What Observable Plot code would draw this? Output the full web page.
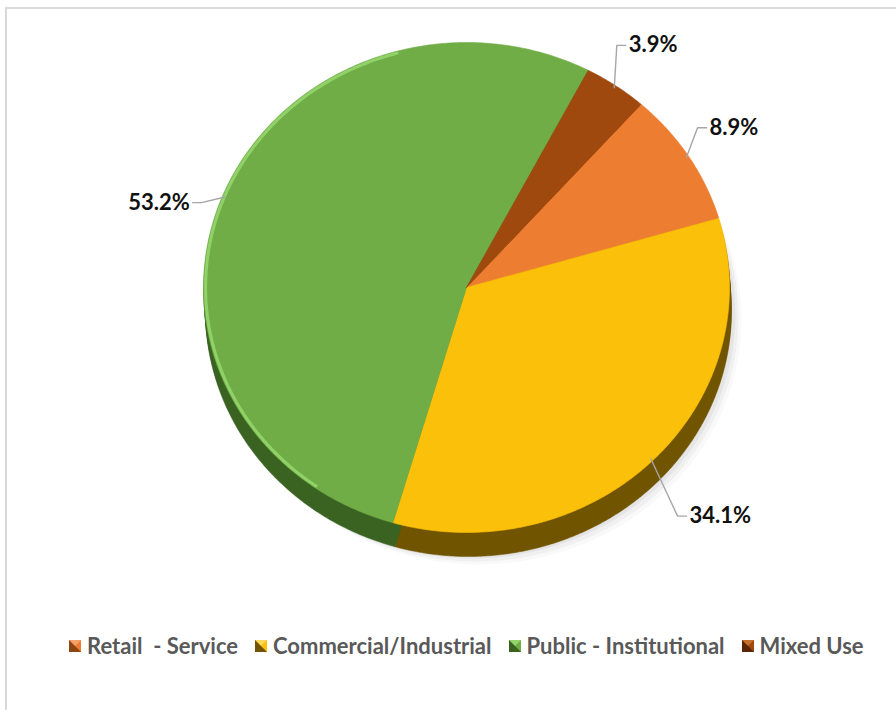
<!DOCTYPE html>
<html><head><meta charset="utf-8">
<script src="https://cdn.jsdelivr.net/npm/d3@7"></script>
<script src="https://cdn.jsdelivr.net/npm/@observablehq/plot@0.6"></script>
<style>
html,body{margin:0;padding:0;background:#fff}
body{width:896px;height:710px;overflow:hidden;position:relative;font-family:Lato,"Open Sans",sans-serif}
#frame{position:absolute;left:5px;top:7px;width:1000px;height:800px;border-top:2px solid #d9d9d9;border-left:2px solid #d9d9d9;box-sizing:border-box}
#chart{position:absolute;left:0;top:0}
#legend{position:absolute;left:69px;top:632px;display:flex;align-items:center;font-size:22px;font-weight:700;color:#595959;white-space:pre}
.item{display:flex;align-items:center;margin-right:17px}
.sw{width:0;height:0;border-style:solid;border-width:6.5px;margin-right:6px}
</style></head>
<body>
<div id="frame"></div>
<div id="chart"></div>
<div id="legend"></div>
<script>
// ---- data ----
const categories = ["Retail  - Service", "Commercial/Industrial", "Public - Institutional", "Mixed Use"];
const shares = [8.9, 34.1, 53.2, 3.9];
const labels = ["8.9%", "34.1%", "53.2%", "3.9%"];

// ---- style / layout ----
const colors = ["#ED7D31", "#FBC00A", "#70AD47", "#A0490F"];
const sideColors = ["#8f4512", "#705400", "#3a6322", "#5a2606"];
const rimColors = ["#f4a26a", "#ffd85a", "#93d46b", "#c4702f"];
const firstSliceAngle = 41.6;        // degrees clockwise from 12 o'clock
const labelR = [1.131, 1.261, 1.108, 1.165];
const labelShift = [-2.8, 2.8, -3.7, -2.6]; // degrees
const cx = 466, cy = 287, rx = 263, ry = 245;
const W = 896, H = 625;

const rad = Math.PI / 180;
const arcs = d3.pie().sort(null).value(d => d)
  .startAngle(firstSliceAngle * rad).endAngle(firstSliceAngle * rad + 2 * Math.PI)(shares);

const slices = [];
arcs.forEach((a, i) => {
  slices.push({cat: categories[i], x: 0, y: 0});
  const n = Math.max(4, Math.ceil((a.endAngle - a.startAngle) / (0.5 * rad)));
  for (let k = 0; k <= n; k++) {
    const t = a.startAngle + (a.endAngle - a.startAngle) * k / n;
    slices.push({cat: categories[i], x: Math.sin(t), y: Math.cos(t), t: t / rad});
  }
  slices.push({cat: categories[i], x: 0, y: 0});
});

// highlight rim on the left side of the pie
const rim = slices.filter(d => d.t !== undefined && d.t > 215 && d.t < 345);

// labels and leader lines
const pxX = 1 / rx;
const labelRows = [], leaders = [];
arcs.forEach((a, i) => {
  const mid = (a.startAngle + a.endAngle) / 2;
  const la = mid + labelShift[i] * rad;
  const lx = Math.sin(la) * labelR[i], ly = Math.cos(la) * labelR[i];
  const right = Math.sin(la) >= 0;
  labelRows.push({cat: categories[i], text: labels[i], x: lx, y: ly, right});
  const s = right ? -1 : 1;
  leaders.push({cat: categories[i], x: Math.sin(mid) * 0.99, y: Math.cos(mid) * 0.99});
  leaders.push({cat: categories[i], x: lx + s * 12 * pxX, y: ly});
  leaders.push({cat: categories[i], x: lx + s * 3 * pxX, y: ly});
});

const marks = [];
// soft shadow
[[12, 32, 0.025], [9, 29, 0.035], [6, 26, 0.045]].forEach(([dx, dy, op]) => {
  marks.push(Plot.line(slices, {x: "x", y: "y", z: "cat", fill: "#000", fillOpacity: op, stroke: "none", dx, dy}));
});
// side walls (3D depth)
for (let dy = 3; dy <= 24; dy += 3) {
  categories.forEach((c, i) => {
    marks.push(Plot.line(slices.filter(d => d.cat === c), {x: "x", y: "y", fill: sideColors[i], stroke: sideColors[i], strokeWidth: 0.5, dx: dy / 12, dy}));
  });
}
// top faces
marks.push(Plot.line(slices, {x: "x", y: "y", z: "cat", fill: "cat", stroke: "cat", strokeWidth: 0.6}));
// rim highlight
marks.push(Plot.line(rim, {x: d => d.x * 0.992, y: d => d.y * 0.992, z: "cat", stroke: "#94d66b", strokeWidth: 3, strokeOpacity: 0.9}));
// leaders
marks.push(Plot.line(leaders, {x: "x", y: "y", z: "cat", stroke: "#a6a6a6", strokeWidth: 1.4}));
// labels
const textStyle = {x: "x", y: "y", text: "text", fill: "#111", fontSize: 22, fontWeight: 700, fontFamily: "Lato"};
marks.push(Plot.text(labelRows.filter(d => d.right), {...textStyle, textAnchor: "start"}));
marks.push(Plot.text(labelRows.filter(d => !d.right), {...textStyle, textAnchor: "end"}));

const chart = Plot.plot({
  width: W, height: H,
  margin: 0,
  x: {domain: [-1, 1], range: [cx - rx, cx + rx], axis: null},
  y: {domain: [-1, 1], range: [cy + ry, cy - ry], axis: null},
  color: {domain: categories, range: colors},
  style: {background: "transparent", overflow: "visible"},
  marks
});
document.getElementById("chart").appendChild(chart);

// legend
const leg = document.getElementById("legend");
categories.forEach((c, i) => {
  const it = document.createElement("div");
  it.className = "item";
  const sw = document.createElement("span");
  sw.className = "sw";
  sw.style.borderColor = `${rimColors[i]} ${colors[i]} ${sideColors[i]} ${sideColors[i]}`;
  const tx = document.createElement("span");
  tx.textContent = c;
  it.appendChild(sw); it.appendChild(tx);
  leg.appendChild(it);
});
</script>
</body></html>
